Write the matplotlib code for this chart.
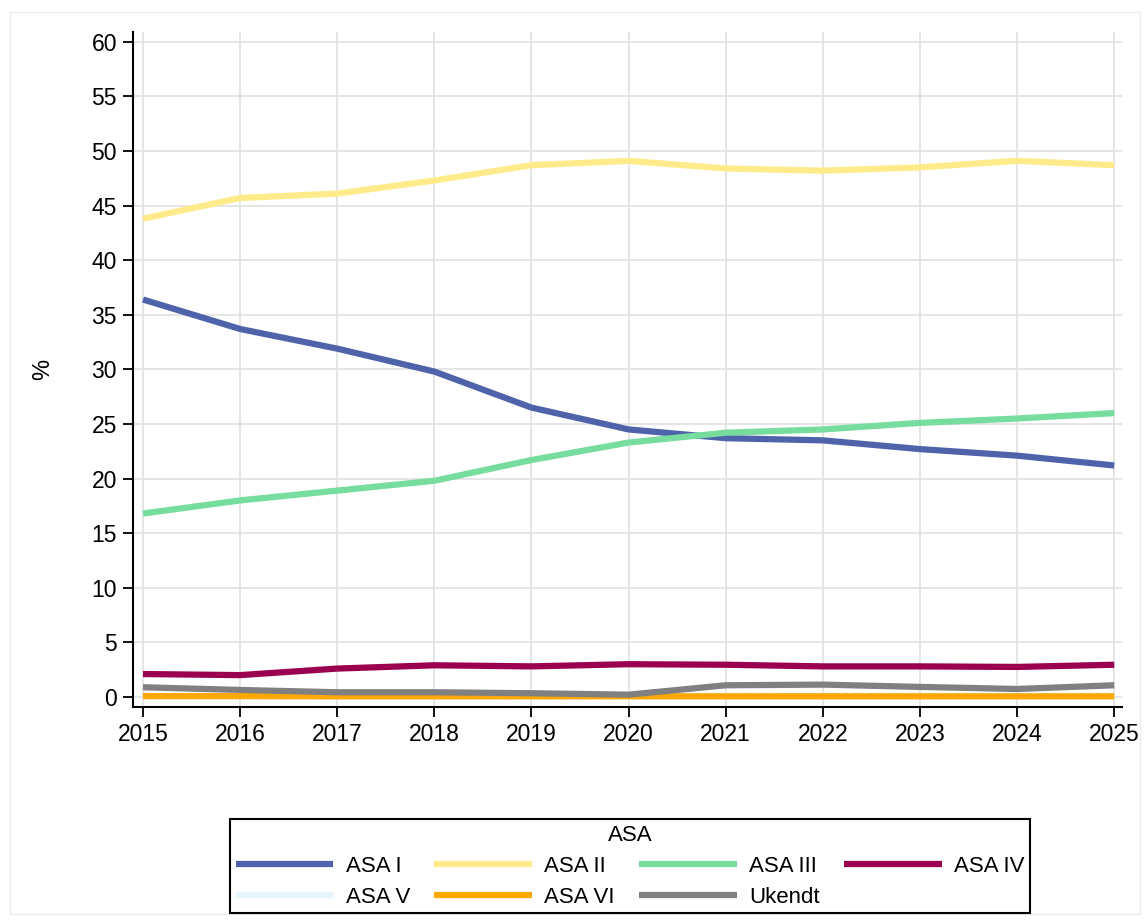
import matplotlib.pyplot as plt
from matplotlib.patches import Rectangle

plt.rcParams['font.family'] = ['Liberation Sans', 'DejaVu Sans']

years = [2015, 2016, 2017, 2018, 2019, 2020, 2021, 2022, 2023, 2024, 2025]

asa_1 = [36.4, 33.7, 31.9, 29.8, 26.5, 24.5, 23.7, 23.5, 22.7, 22.1, 21.2]
asa_2 = [43.8, 45.7, 46.1, 47.3, 48.7, 49.1, 48.4, 48.2, 48.5, 49.1, 48.7]
asa_3 = [16.8, 18.0, 18.9, 19.8, 21.7, 23.3, 24.2, 24.5, 25.1, 25.5, 26.0]
asa_4 = [2.1, 2.0, 2.6, 2.9, 2.8, 3.0, 2.95, 2.8, 2.8, 2.75, 2.95]
asa_5 = [0.05, 0.05, 0.05, 0.05, 0.05, 0.05, 0.05, 0.05, 0.05, 0.05, 0.05]
asa_6 = [0.08, 0.08, 0.06, 0.06, 0.06, 0.06, 0.06, 0.06, 0.06, 0.06, 0.06]
ukendt = [0.89, 0.64, 0.43, 0.43, 0.34, 0.21, 1.07, 1.13, 0.92, 0.73, 1.07]

series = [
    ("ASA I", asa_1, "#4f63aa"),
    ("ASA II", asa_2, "#ffeb8a"),
    ("ASA III", asa_3, "#77dd9e"),
    ("ASA IV", asa_4, "#9b0050"),
    ("ASA V", asa_5, "#e6f4fc"),
    ("ASA VI", asa_6, "#ffa800"),
    ("Ukendt", ukendt, "#808080"),
]

fig = plt.figure(figsize=(11.46, 9.22), dpi=100)
ax = fig.add_axes([133 / 1146, 1 - 707 / 922, (1122 - 133) / 1146, (707 - 32) / 922])

lines = {}
for name, vals, col in series:
    ln, = ax.plot(years, vals, color=col, lw=4.5, label=name, solid_capstyle='butt')
    lines[name] = ln

ax.set_xlim(2014.897, 2025.08)
ax.set_ylim(-0.92, 60.9)
ax.set_xticks(years)
ax.set_yticks(range(0, 61, 5))
ax.tick_params(labelsize=16.5, length=7.5, width=1.3, direction='out', pad=4)
ax.grid(True, color='#e3e3e3', lw=1.3)
ax.set_axisbelow(True)
for s in ['top', 'right']:
    ax.spines[s].set_visible(False)
for s in ['left', 'bottom']:
    ax.spines[s].set_linewidth(1.5)
ax.set_ylabel("%", fontsize=17)
ax.yaxis.set_label_coords(-0.08, 0.5)

# matplotlib fills columns first, so reorder to get row-wise order
order = ["ASA I", "ASA V", "ASA II", "ASA VI", "ASA III", "Ukendt", "ASA IV"]
leg = fig.legend(handles=[lines[n] for n in order], labels=order, ncol=4,
                 title="ASA", title_fontsize=16, fontsize=16,
                 loc='upper left', bbox_to_anchor=(230 / 1146, 1 - 912 / 922, 800 / 1146, 93 / 922),
                 mode='expand', handlelength=4.4, handletextpad=0.55, fancybox=False,
                 edgecolor='black', framealpha=1, borderaxespad=0, labelspacing=0.45,
                 borderpad=0.25)
leg.get_frame().set_linewidth(1.5)

fig.patches.append(Rectangle((10 / 1146, 8 / 922), 1130 / 1146, 902 / 922, transform=fig.transFigure,
                             fill=False, edgecolor='#ececec', lw=1))

fig.savefig("out.png", dpi=100)
